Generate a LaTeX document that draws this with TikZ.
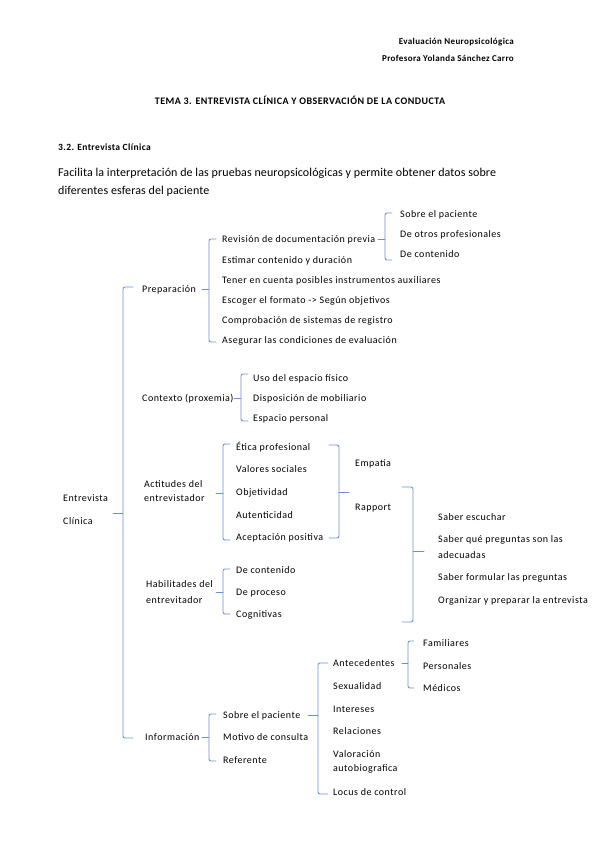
\documentclass[tikz,border=0pt]{standalone}
\usepackage{fontspec}
\setmainfont{Carlito}
\newfontfamily\dfont[LetterSpace=5]{Carlito}
\newfontfamily\hfont[LetterSpace=4]{Carlito}
\newfontfamily\tfont[LetterSpace=4.8]{Carlito}
\newfontfamily\pfont[LetterSpace=0.8]{Carlito}
\begin{document}
\begin{tikzpicture}[x=1pt,y=-1pt,
  brk/.style={draw={rgb,255:red,104;green,144;blue,216},line width=0.85pt,line cap=round},
  txt/.style={anchor=base west,inner sep=0pt,font=\dfont\fontsize{10}{12}\selectfont},
  hdr/.style={anchor=base east,inner sep=0pt,font=\hfont\fontsize{9}{10}\selectfont\bfseries}]
\useasboundingbox (0,0) rectangle (599,848);
\newcommand\Lbr[5]{\draw[brk,rounded corners=2pt] (#1+#5,#2) -- (#1,#2) -- (#1,#3) -- (#1+#5,#3); \draw[brk] (#1,#4) -- (#1-#5,#4);}
\newcommand\Rbr[5]{\draw[brk,rounded corners=2pt] (#1-#5,#2) -- (#1,#2) -- (#1,#3) -- (#1-#5,#3); \draw[brk] (#1,#4) -- (#1+#5,#4);}
% header
\node[hdr] (h1) at (514,45) {Evaluación Neuropsicológica};
\node[hdr] (h2) at (514,62) {Profesora Yolanda Sánchez Carro};
\node[anchor=base,inner sep=0pt,font=\tfont\fontsize{10}{12}\selectfont\bfseries] (tema) at (300,105) {TEMA 3. ENTREVISTA CLÍNICA Y OBSERVACIÓN DE LA CONDUCTA};
\node[anchor=base west,inner sep=0pt,font=\hfont\fontsize{9.5}{11}\selectfont\bfseries] (sec) at (58,150) {3.2. Entrevista Clínica};
\node[anchor=base west,inner sep=0pt,font=\pfont\fontsize{12}{14}\selectfont] (p1) at (58,176) {Facilita la interpretación de las pruebas neuropsicológicas y permite obtener datos sobre};
\node[anchor=base west,inner sep=0pt,font=\pfont\fontsize{12}{14}\selectfont] (p2) at (58,194) {diferentes esferas del paciente};
% root
\node[txt] (r1) at (63,501) {Entrevista};
\node[txt] (r2) at (63,524) {Clínica};
\Lbr{123}{287}{738}{513}{10}
% Preparacion
\node[txt] (prep) at (142,292) {Preparación};
\Lbr{209}{239}{342}{289}{7}
\node[txt] (p-a) at (222,242) {Revisión de documentación previa};
\node[txt] (p-b) at (222,263) {Estimar contenido y duración};
\node[txt] (p-c) at (222,283) {Tener en cuenta posibles instrumentos auxiliares};
\node[txt] (p-d) at (222,303) {Escoger el formato -> Según objetivos};
\node[txt] (p-e) at (222,323) {Comprobación de sistemas de registro};
\node[txt] (p-f) at (222,343) {Asegurar las condiciones de evaluación};
\Lbr{385}{213}{260}{239}{7}
\node[txt] (pa-1) at (400,217) {Sobre el paciente};
\node[txt] (pa-2) at (400,237) {De otros profesionales};
\node[txt] (pa-3) at (400,257) {De contenido};
% Contexto
\node[txt] (ctx) at (142,401) {Contexto (proxemia)};
\Lbr{241}{374}{421}{398}{7}
\node[txt] (c-a) at (253,381) {Uso del espacio físico};
\node[txt] (c-b) at (253,401) {Disposición de mobiliario};
\node[txt] (c-c) at (253,421) {Espacio personal};
% Actitudes
\node[txt] (act1) at (144,487) {Actitudes del};
\node[txt] (act2) at (144,501) {entrevistador};
\Lbr{223}{444}{540}{493}{7}
\node[txt] (a-a) at (236,450) {Ética profesional};
\node[txt] (a-b) at (236,472) {Valores sociales};
\node[txt] (a-c) at (236,495) {Objetividad};
\node[txt] (a-d) at (236,518) {Autenticidad};
\node[txt] (a-e) at (236,540) {Aceptación positiva};
\Rbr{339}{445}{538}{492}{10}
\node[txt] (emp) at (355,466) {Empatía};
\node[txt] (rap) at (355,510) {Rapport};
\Rbr{413}{487}{622}{551}{11}
\node[txt] (r-a) at (438,520) {Saber escuchar};
\node[txt] (r-b1) at (438,542) {Saber qué preguntas son las};
\node[txt] (r-b2) at (438,558) {adecuadas};
\node[txt] (r-c) at (438,580) {Saber formular las preguntas};
\node[txt] (r-d) at (438,603) {Organizar y preparar la entrevista};
% Habilidades
\node[txt] (hab1) at (146,587) {Habilitades del};
\node[txt] (hab2) at (146,603) {entrevitador};
\Lbr{223}{569}{614}{592}{7}
\node[txt] (h-a) at (236,573) {De contenido};
\node[txt] (h-b) at (236,595) {De proceso};
\node[txt] (h-c) at (236,617) {Cognitivas};
% Informacion
\node[txt] (inf) at (145,740) {Información};
\Lbr{209}{714}{761}{737}{7}
\node[txt] (i-a) at (223,718) {Sobre el paciente};
\node[txt] (i-b) at (223,740) {Motivo de consulta};
\node[txt] (i-c) at (223,763) {Referente};
\Lbr{318}{663}{794}{715}{10}
\node[txt] (s-a) at (333,666) {Antecedentes};
\node[txt] (s-b) at (333,689) {Sexualidad};
\node[txt] (s-c) at (333,712) {Intereses};
\node[txt] (s-d) at (333,734) {Relaciones};
\node[txt] (s-e1) at (333,757) {Valoración};
\node[txt] (s-e2) at (333,771) {autobiografica};
\node[txt] (s-f) at (333,795) {Locus de control};
\Lbr{408}{641}{688}{663}{6}
\node[txt] (an-a) at (423,646) {Familiares};
\node[txt] (an-b) at (423,669) {Personales};
\node[txt] (an-c) at (423,691) {Médicos};
\end{tikzpicture}
\end{document}
